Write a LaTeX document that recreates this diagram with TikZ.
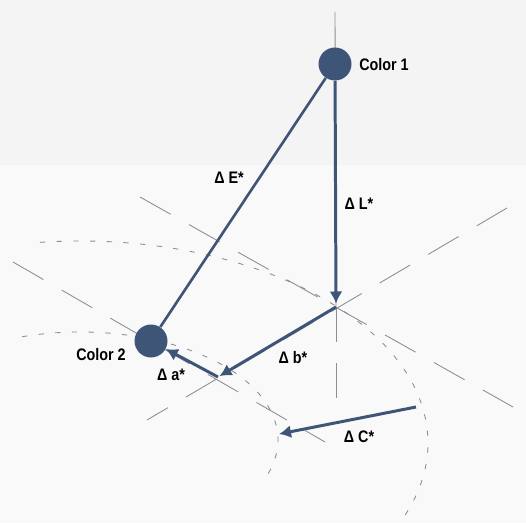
\documentclass[tikz,border=0pt]{standalone}
\usepackage{fontspec}
\newfontfamily\labelfont{Liberation Sans}[FakeStretch=0.86]
\usetikzlibrary{arrows.meta}
\definecolor{dotblue}{HTML}{3F5578}
\definecolor{axisgray}{HTML}{8A8F96}
\begin{document}
\begin{tikzpicture}[
      x=0.02cm, y=-0.02cm,
      font=\labelfont\bfseries\fontsize{9.5}{11}\selectfont,
      dot/.style={circle, fill=dotblue, minimum size=0.66cm, inner sep=0pt},
      vec/.style={draw=dotblue, line width=1.7pt, -{Latex[length=2.4mm, width=2.6mm]}},
      axis/.style={draw=axisgray, line width=0.5pt},
      axisdash/.style={axis, dash pattern=on 20pt off 12pt},
      ring/.style={draw=axisgray, line width=0.5pt, dash pattern=on 3pt off 6.5pt}
    ]
      \useasboundingbox (0,0) rectangle (526,523);
      \fill[gray!5] (0,0) rectangle (526,523);
      \fill[gray!9] (0,0) rectangle (526,165);

      \coordinate (O) at (336,307);
      \coordinate (P) at (218,377);
      \coordinate (Cs) at (416,407);
      \coordinate (Ce) at (279,434);

      % axes
      \draw[axis] (335,12) -- (O);
      \draw[axisdash] (O) -- (336,400);
      \draw[axisdash] (507,208) -- (147,420);
      \draw[axisdash] (140,197) -- (513,407);
      \draw[axisdash] (13,262) -- (325,442);

      % chroma rings
      \draw[ring] (80,443) ++(-96.6:348 and 202) arc[start angle=-96.6, end angle=22.5, x radius=348, y radius=202];
      \draw[ring] (80,440) ++(-107:198 and 108) arc[start angle=-107, end angle=20, x radius=198, y radius=108];

      \node[dot] (c1) at (335,64) {};
      \node[dot] (c2) at (151,341) {};
      \node (lc1) at (384,65) {Color 1};
      \node (lc2) at (101,355) {Color 2};

      \draw[dotblue, line width=1.5pt] (c1) -- (c2);
      \draw[vec, shorten >=2pt] (c1) -- (O);
      \draw[vec, shorten >=1pt] (O) -- (P);
      \draw[vec] (P) -- (c2);
      \draw[vec] (Cs) -- (Ce);

      \node (lE) at (229,178) {Δ E*};
      \node (lL) at (359,204) {Δ L*};
      \node (lb) at (293,358) {Δ b*};
      \node (la) at (171,375) {Δ a*};
      \node (lC) at (359,437) {Δ C*};
    \end{tikzpicture}
\end{document}
